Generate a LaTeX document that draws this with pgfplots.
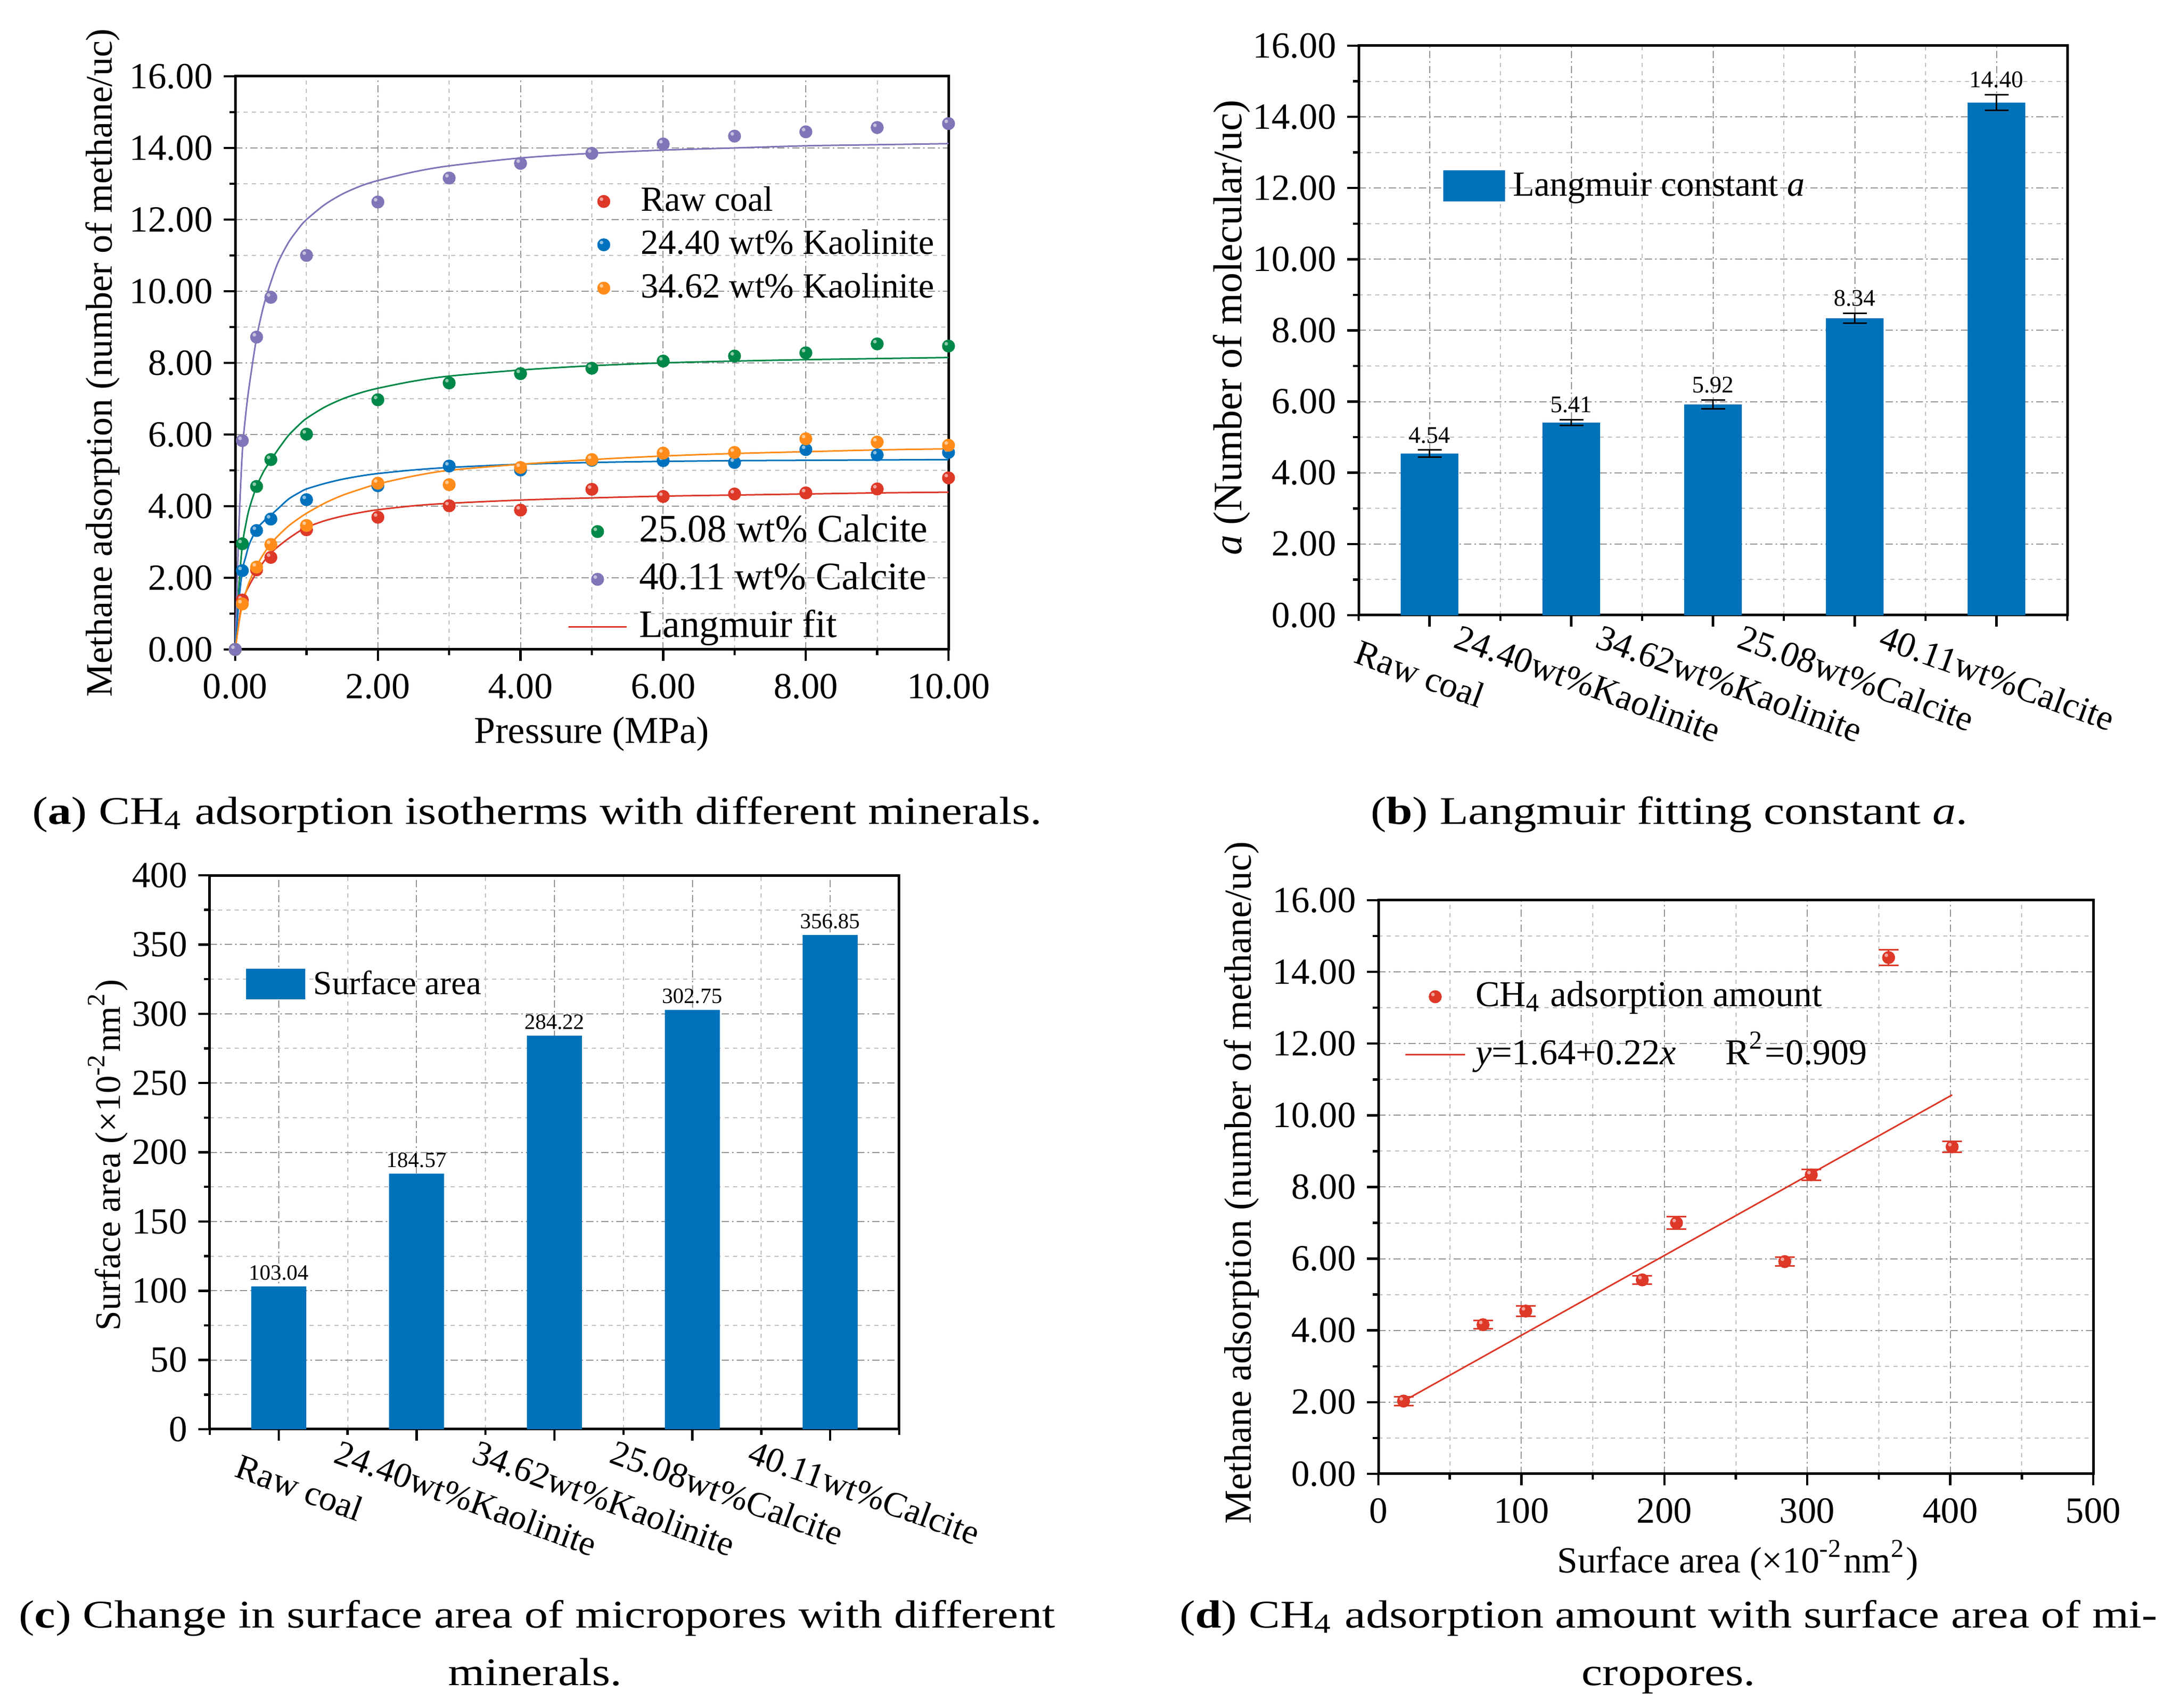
\documentclass[border=0pt]{standalone}
\usepackage{fontspec}
\setmainfont{Liberation Serif}
\newfontfamily\capfont{Liberation Serif}[FakeStretch=1.2]
\usepackage{pgfplots}
\usepackage{pgfplotstable}
\pgfplotsset{compat=1.18}

\definecolor{cRed}{RGB}{221,56,40}
\definecolor{cBlue}{RGB}{0,114,189}
\definecolor{cOrange}{RGB}{255,140,26}
\definecolor{cGreen}{RGB}{0,136,72}
\definecolor{cPurple}{RGB}{127,118,184}
\definecolor{cBar}{RGB}{0,114,186}

\pgfdeclareplotmark{hball}{%
  \pgfpathcircle{\pgfpointorigin}{\pgfplotmarksize}\pgfusepath{fill}%
  \begin{pgfscope}%
    \pgfsetfillcolor{white}\pgfsetfillopacity{0.55}%
    \pgfpathcircle{\pgfpoint{-0.35\pgfplotmarksize}{0.35\pgfplotmarksize}}{0.28\pgfplotmarksize}\pgfusepath{fill}%
  \end{pgfscope}%
}

\pgfplotsset{
  panel/.style={
    scale only axis, anchor=south west,
    axis line style={line width=0.5pt, black},
    tick align=outside, tick pos=left,
    major tick length=2.2pt, minor tick length=1.1pt,
    every tick/.style={black, line width=0.45pt},
    grid=both,
    major grid style={gray!85, line width=0.2pt, dash pattern=on 1.4pt off 0.6pt on 0.3pt off 0.6pt},
    minor grid style={gray!50, line width=0.2pt, dash pattern=on 0.8pt off 0.8pt},
    tick label style={font=\fontsize{7.1}{8}\selectfont},
    yticklabel style={xshift=1.4pt},
    /pgf/number format/assume math mode=true,
    legend cell align=left,
  },
  pt/.style={only marks, mark=hball, mark size=1.25pt, mark options={fill=#1, draw=none}},
}

\pgfplotstableread{
p raw kao24 kao34 cal25 cal40
0 0 0 0 0 0
0.1 1.38 2.20 1.27 2.95 5.83
0.3 2.22 3.32 2.30 4.55 8.72
0.5 2.57 3.64 2.93 5.30 9.83
1 3.34 4.18 3.46 6.01 11.00
2 3.69 4.57 4.64 6.97 12.49
3 4.01 5.12 4.60 7.44 13.16
4 3.89 5.01 5.08 7.70 13.57
5 4.47 5.28 5.30 7.85 13.85
6 4.27 5.27 5.48 8.05 14.11
7 4.34 5.22 5.50 8.19 14.33
8 4.37 5.58 5.88 8.28 14.45
9 4.48 5.43 5.79 8.53 14.57
10 4.79 5.50 5.70 8.47 14.68
}\tabA

\pgfplotstableread{
p raw kao24 kao34 cal25 cal40
0 0 0 0 0 0
0.05 0.75 1.30 0.70 1.70 3.30
0.1 1.35 2.20 1.25 2.90 5.50
0.15 1.60 2.60 1.60 3.50 6.60
0.2 1.80 2.95 1.90 3.95 7.40
0.3 2.15 3.35 2.33 4.55 8.70
0.4 2.45 3.58 2.67 4.97 9.60
0.5 2.69 3.75 2.95 5.28 10.25
0.6 2.87 3.93 3.17 5.58 10.80
0.75 3.10 4.20 3.45 5.98 11.37
0.9 3.30 4.38 3.67 6.28 11.78
1 3.41 4.48 3.80 6.45 12.00
1.25 3.59 4.63 4.08 6.76 12.41
1.5 3.72 4.75 4.30 6.99 12.71
1.75 3.82 4.84 4.47 7.16 12.93
2 3.90 4.91 4.62 7.29 13.09
2.5 4.01 5.01 4.84 7.49 13.33
3 4.08 5.08 5.00 7.63 13.50
4 4.17 5.17 5.17 7.80 13.72
5 4.23 5.22 5.30 7.92 13.85
6 4.28 5.25 5.40 8.00 13.94
7 4.31 5.27 5.47 8.05 14.00
8 4.34 5.28 5.52 8.09 14.06
9 4.37 5.29 5.57 8.12 14.09
10 4.39 5.30 5.60 8.15 14.12
}\fitA

\pgfplotstableread{
x y err ly lab
0 4.54 0.10 4.64 4.54
1 5.41 0.08 5.49 5.41
2 5.92 0.13 6.05 5.92
3 8.34 0.14 8.48 8.34
4 14.40 0.22 14.62 14.40
}\tabB

\pgfplotstableread{
x y lab
0 103.04 103.04
1 184.57 184.57
2 284.22 284.22
3 302.75 302.75
4 356.85 356.85
}\tabC

\pgfplotstableread{
x y e
17.6 2.03 0.12
73.2 4.16 0.12
103.04 4.54 0.15
184.57 5.41 0.12
208.5 7.00 0.18
284.22 5.92 0.12
302.75 8.34 0.15
356.85 14.40 0.22
401.3 9.12 0.15
}\tabD

\begin{document}
\begin{tikzpicture}
\useasboundingbox (0,0) rectangle (420.1pt,329pt);

% ---------------- (a) ----------------
\begin{axis}[panel, at={(45.3pt,203.9pt)}, width=137.4pt, height=110.4pt,
  xmin=0, xmax=10, ymin=0, ymax=16, clip=false,
  xtick={0,2,...,10}, ytick={0,2,...,16},
  minor xtick={1,3,...,9}, minor ytick={1,3,...,15},
  xticklabel={\pgfmathprintnumber[fixed,fixed zerofill,precision=2]{\tick}},
  yticklabel={\pgfmathprintnumber[fixed,fixed zerofill,precision=2]{\tick}},
  xticklabel style={yshift=1pt},
  xlabel={Pressure (MPa)},
  ylabel={Methane adsorption (number of methane/uc)},
  xlabel style={font=\fontsize{7.3}{8}\selectfont, at={(axis description cs:0.5,-0.148)}, anchor=center},
  ylabel style={font=\fontsize{7.2}{8}\selectfont, at={(axis description cs:-0.1856,0.5)}, anchor=center},
  legend style={draw=none, fill=none, at={(axis description cs:0.4745,0.706)}, anchor=west,
    inner sep=0pt, outer sep=0pt, row sep=1.95pt, column sep=1.4pt,
    font=\fontsize{6.8}{8}\selectfont, nodes={inner sep=0pt, text height=5pt, text depth=1.4pt}},
  legend image code/.code={\path (0pt,-0.1pt) (11.2pt,0.1pt); \draw[mark repeat=2,mark phase=2,#1] plot coordinates {(0pt,0pt) (5.6pt,0pt) (11.2pt,0pt)};},
]
\addplot[cGreen, line width=0.3pt, smooth, forget plot] table[x=p,y=cal25] {\fitA};
\addplot[cPurple, line width=0.3pt, smooth, forget plot] table[x=p,y=cal40] {\fitA};
\addplot[cRed, line width=0.3pt, smooth, forget plot] table[x=p,y=raw] {\fitA};
\addplot[cBlue, line width=0.3pt, smooth, forget plot] table[x=p,y=kao24] {\fitA};
\addplot[cOrange, line width=0.3pt, smooth, forget plot] table[x=p,y=kao34] {\fitA};
\addplot[pt=cGreen, forget plot] table[x=p,y=cal25] {\tabA};
\addplot[pt=cRed] table[x=p,y=raw] {\tabA};
\addlegendentry{Raw coal}
\addplot[pt=cBlue] table[x=p,y=kao24] {\tabA};
\addlegendentry{24.40 wt\% Kaolinite}
\addplot[pt=cOrange] table[x=p,y=kao34] {\tabA};
\addlegendentry{34.62 wt\% Kaolinite}
\addplot[pt=cPurple, forget plot] table[x=p,y=cal40] {\tabA};
\end{axis}

\begin{axis}[scale only axis, anchor=south west, at={(45.3pt,203.9pt)}, width=137.4pt, height=110.4pt,
  hide axis, xmin=0, xmax=1, ymin=0, ymax=1,
  legend cell align=left,
  legend style={draw=none, fill=none, at={(axis description cs:0.4658,0.1223)}, anchor=west,
    inner sep=0pt, outer sep=0pt, row sep=2.2pt, column sep=2.2pt,
    font=\fontsize{7.5}{9}\selectfont, nodes={inner sep=0pt, text height=5.5pt, text depth=1.5pt}},
  legend image code/.code={\path (0pt,-0.1pt) (11.2pt,0.1pt); \draw[mark repeat=2,mark phase=2,#1] plot coordinates {(0pt,0pt) (5.6pt,0pt) (11.2pt,0pt)};},
]
\addlegendimage{pt=cGreen}
\addlegendentry{25.08 wt\% Calcite}
\addlegendimage{pt=cPurple}
\addlegendentry{40.11 wt\% Calcite}
\addlegendimage{cRed, line width=0.3pt}
\addlegendentry{Langmuir fit}
\end{axis}

% ---------------- (b) ----------------
\begin{axis}[panel, at={(261.7pt,210.5pt)}, width=136.5pt, height=109.7pt,
  xmin=-0.5, xmax=4.5, ymin=0, ymax=16,
  xtick={0,1,2,3,4}, minor xtick={-0.5,0.5,1.5,2.5,3.5,4.5},
  ytick={0,2,...,16}, minor ytick={1,3,...,15},
  xticklabels={\hspace*{8.6pt}Raw coal,24.40wt\%Kaolinite,34.62wt\%Kaolinite,25.08wt\%Calcite,40.11wt\%Calcite},
  xticklabel style={xshift=-21.4pt, yshift=0.8pt, rotate=-20, anchor=north west, inner sep=0pt, font=\fontsize{6.9}{8}\selectfont},
  yticklabel={\pgfmathprintnumber[fixed,fixed zerofill,precision=2]{\tick}},
  ylabel={\textit{a} (Number of molecular/uc)},
  ylabel style={font=\fontsize{7.8}{9}\selectfont, at={(axis description cs:-0.1795,0.505)}, anchor=center},
  legend style={draw=none, fill=none, at={(axis description cs:0.1194,0.7539)}, anchor=west,
    inner sep=0pt, outer sep=0pt, column sep=1.5pt,
    font=\fontsize{6.8}{8}\selectfont, nodes={inner sep=0pt, text height=5.5pt, text depth=1.5pt}},
]
\addplot[ybar, bar width=11.1pt, fill=cBar, draw=none, forget plot,
  error bars/.cd, y dir=both, y explicit,
  error bar style={black, line width=0.3pt},
  error mark options={rotate=90, black, mark size=2.3pt, line width=0.3pt}]
  table[x=x, y=y, y error=err] {\tabB};
\addplot[only marks, mark=none, forget plot, point meta=explicit symbolic, nodes near coords,
  every node near coord/.append style={anchor=south, inner sep=0pt, yshift=1.1pt, font=\fontsize{4.6}{5}\selectfont, black}]
  table[x=x, y=ly, meta=lab] {\tabB};
\addlegendimage{legend image code/.code={\fill[cBar] (0pt,-2.8pt) rectangle (11.5pt,2.8pt);}}
\addlegendentry{Langmuir constant \textit{a}}
\end{axis}

% ---------------- (c) ----------------
\begin{axis}[panel, at={(40.4pt,53.7pt)}, width=132.8pt, height=106.7pt,
  xmin=-0.5, xmax=4.5, ymin=0, ymax=400,
  xtick={0,1,2,3,4}, minor xtick={-0.5,0.5,1.5,2.5,3.5,4.5},
  ytick={0,50,...,400}, minor ytick={25,75,...,375},
  xticklabels={\hspace*{7.9pt}Raw coal,24.40wt\%Kaolinite,34.62wt\%Kaolinite,25.08wt\%Calcite,40.11wt\%Calcite},
  xticklabel style={xshift=-14.7pt, yshift=0.5pt, rotate=-20, anchor=north west, inner sep=0pt, font=\fontsize{6.8}{8}\selectfont},
  ylabel={Surface area (\texttimes10\textsuperscript{-2}nm\textsuperscript{2})},
  ylabel style={font=\fontsize{6.9}{8}\selectfont, at={(axis description cs:-0.1476,0.495)}, anchor=center},
  legend style={draw=none, fill=none, at={(axis description cs:0.0527,0.8037)}, anchor=west,
    inner sep=0pt, outer sep=0pt, column sep=1.6pt,
    font=\fontsize{6.5}{8}\selectfont, nodes={inner sep=0pt, text height=5.5pt, text depth=1.5pt}},
]
\addplot[ybar, bar width=10.6pt, fill=cBar, draw=none, forget plot,
  point meta=explicit symbolic, nodes near coords,
  every node near coord/.append style={anchor=south, inner sep=0pt, yshift=1pt, font=\fontsize{4.2}{5}\selectfont, black}]
  table[x=x, y=y, meta=lab] {\tabC};
\addlegendimage{legend image code/.code={\fill[cBar] (0pt,-2.75pt) rectangle (11pt,2.75pt);}}
\addlegendentry{Surface area}
\end{axis}

% ---------------- (d) ----------------
\begin{axis}[panel, at={(265.5pt,45.1pt)}, width=137.7pt, height=110.5pt,
  xmin=0, xmax=500, ymin=0, ymax=16, clip=false,
  xtick={0,100,...,500}, minor xtick={50,150,...,450},
  ytick={0,2,...,16}, minor ytick={1,3,...,15},
  xticklabel style={yshift=1pt},
  yticklabel={\pgfmathprintnumber[fixed,fixed zerofill,precision=2]{\tick}},
  xlabel={Surface area (\texttimes10\textsuperscript{-2}nm\textsuperscript{2})},
  ylabel={Methane adsorption (number of methane/uc)},
  xlabel style={font=\fontsize{7.1}{8}\selectfont, at={(axis description cs:0.503,-0.151)}, anchor=center},
  ylabel style={font=\fontsize{7.35}{8}\selectfont, at={(axis description cs:-0.1917,0.507)}, anchor=center},
  legend style={draw=none, fill=none, at={(axis description cs:0.0363,0.781)}, anchor=west,
    inner sep=0pt, outer sep=0pt, row sep=3.9pt, column sep=1.8pt,
    font=\fontsize{7}{8}\selectfont, nodes={inner sep=0pt, text height=5.5pt, text depth=1.8pt}},
  legend image code/.code={\path (0pt,-0.1pt) (11.5pt,0.1pt); \draw[mark repeat=2,mark phase=2,#1] plot coordinates {(0pt,0pt) (5.75pt,0pt) (11.5pt,0pt)};},
]
\addplot[cRed, line width=0.3pt, forget plot] coordinates {(17.6,2.03) (401.3,10.57)};
\addplot[pt=cRed,
  error bars/.cd, y dir=both, y explicit,
  error bar style={cRed, line width=0.3pt},
  error mark options={rotate=90, cRed, mark size=1.9pt, line width=0.3pt}]
  table[x=x, y=y, y error=e] {\tabD};
\addlegendentry{CH\textsubscript{4} adsorption amount}
\addlegendimage{cRed, line width=0.3pt}
\addlegendentry{\textit{y}=1.64+0.22\textit{x}\hspace{9.5pt}R\textsuperscript{2}=0.909}
\end{axis}

% ---------------- captions ----------------
\begin{scope}[every node/.style={anchor=base, inner sep=0pt, font=\capfont\fontsize{7.55}{9}\selectfont}]
\node at (103.45pt,170.2pt) {(\textbf{a}) CH\textsubscript{4} adsorption isotherms with different minerals.};
\node at (321.5pt,170.2pt) {(\textbf{b}) Langmuir fitting constant \textit{a}.};
\node at (103.45pt,15.44pt) {(\textbf{c}) Change in surface area of micropores with different};
\node at (103.1pt,4.34pt) {minerals.};
\node at (321.4pt,15.44pt) {(\textbf{d}) CH\textsubscript{4} adsorption amount with surface area of mi-};
\node at (321.4pt,4.34pt) {cropores.};
\end{scope}
\end{tikzpicture}
\end{document}
